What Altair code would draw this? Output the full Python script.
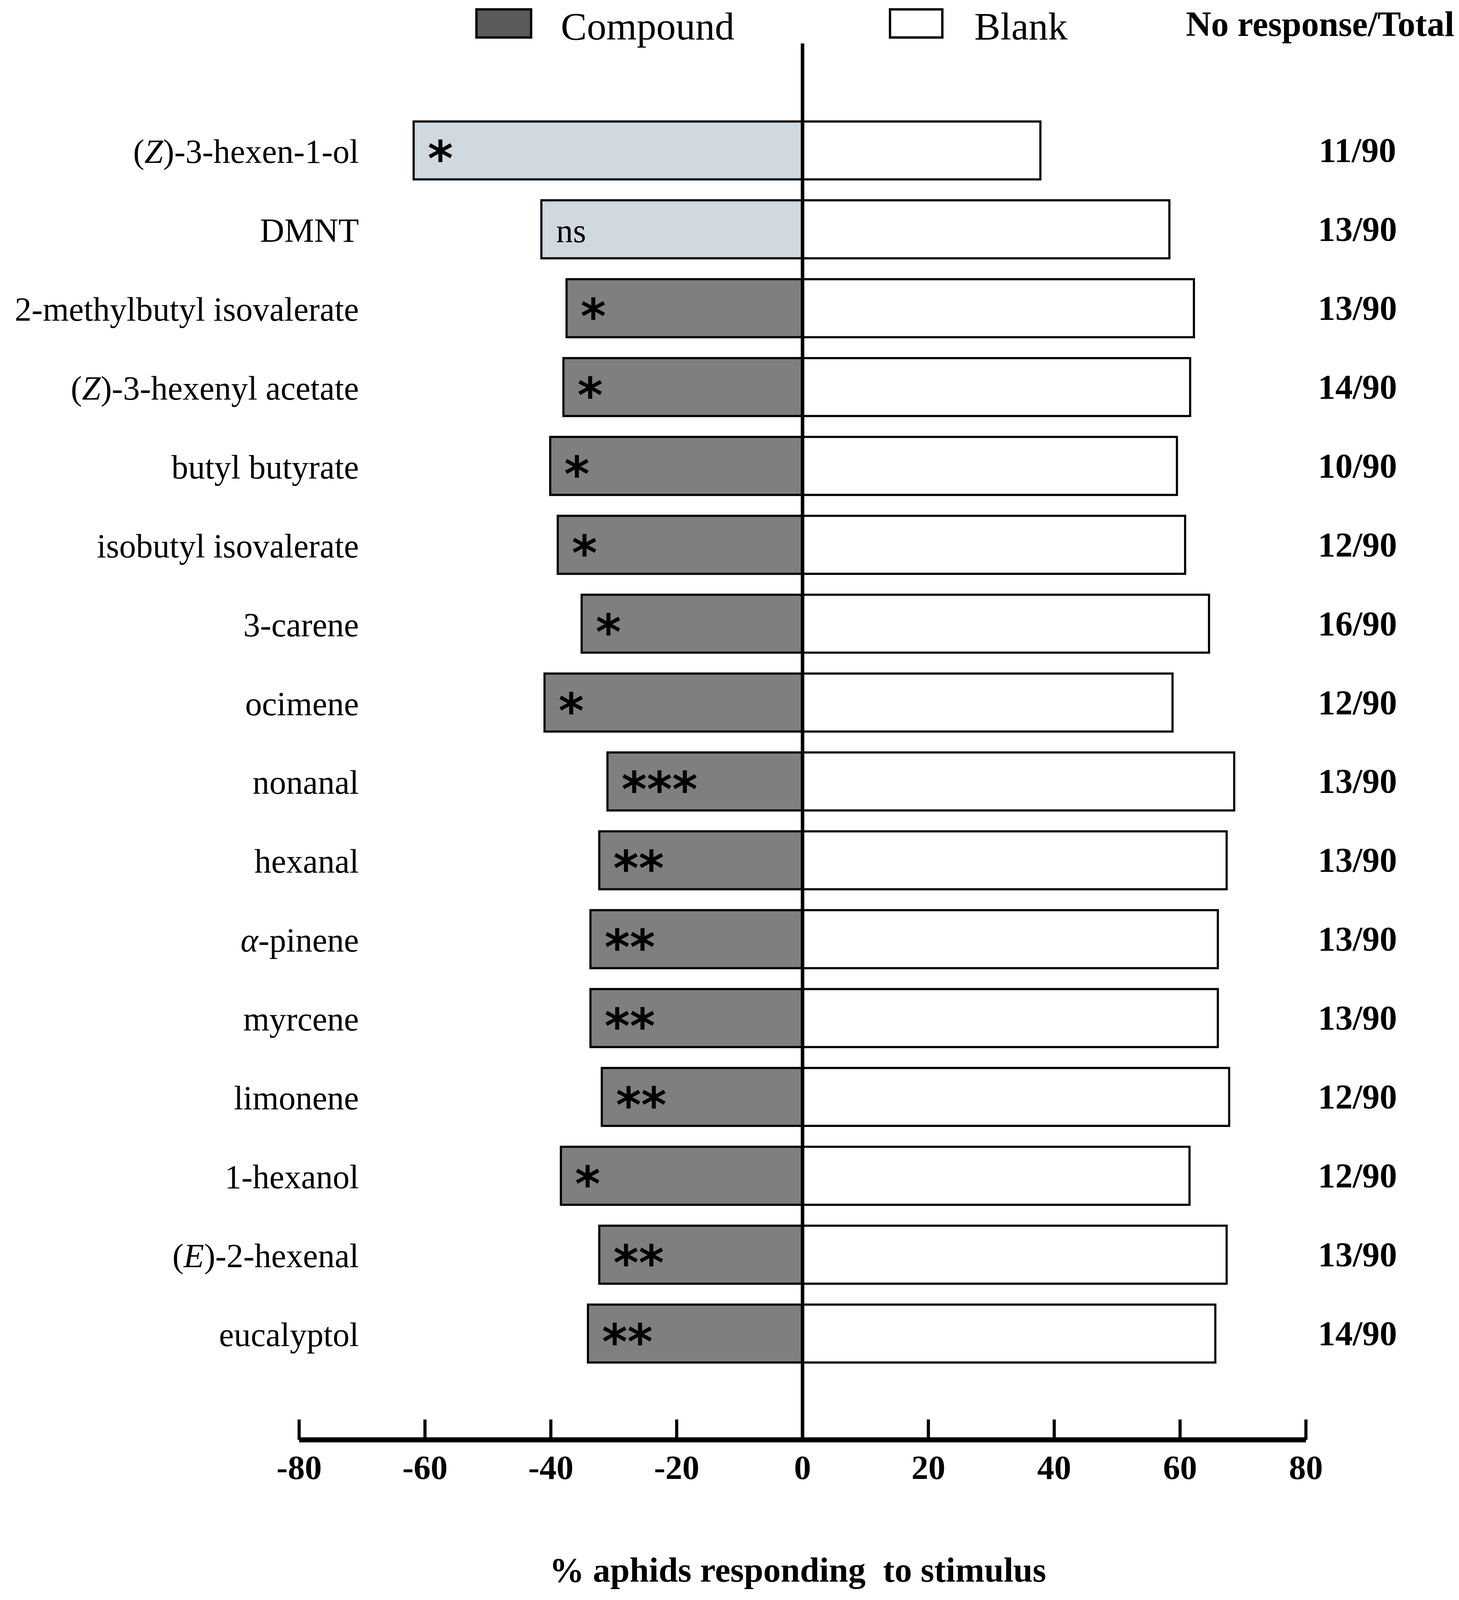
import altair as alt
import pandas as pd

# ---------------- data ----------------
compounds = [
    "(Z)-3-hexen-1-ol", "DMNT", "2-methylbutyl isovalerate", "(Z)-3-hexenyl acetate",
    "butyl butyrate", "isobutyl isovalerate", "3-carene", "ocimene", "nonanal",
    "hexanal", "α-pinene", "myrcene", "limonene", "1-hexanol", "(E)-2-hexenal",
    "eucalyptol",
]
compound_pct = [61.8, 41.5, 37.5, 38.0, 40.1, 38.9, 35.1, 41.0, 31.0, 32.3,
                33.7, 33.7, 31.9, 38.4, 32.3, 34.1]
blank_pct = [37.8, 58.3, 62.2, 61.6, 59.5, 60.8, 64.6, 58.8, 68.6, 67.4,
             66.0, 66.0, 67.8, 61.5, 67.4, 65.6]
significance = ["*", "ns", "*", "*", "*", "*", "*", "*", "***", "**", "**", "**",
                "**", "*", "**", "**"]
no_response = ["11/90", "13/90", "13/90", "14/90", "10/90", "12/90", "16/90", "12/90",
               "13/90", "13/90", "13/90", "13/90", "12/90", "12/90", "13/90", "14/90"]
shade = ["light", "light"] + ["dark"] * 14
tick_values = [-80, -60, -40, -20, 0, 20, 40, 60, 80]
tick_labels = [str(v) for v in tick_values]

# labels that contain an italic part: (text, italic?) segments
italic_segments = {
    "(Z)-3-hexen-1-ol": [("(", False), ("Z", True), (")-3-hexen-1-ol", False)],
    "(Z)-3-hexenyl acetate": [("(", False), ("Z", True), (")-3-hexenyl acetate", False)],
    "α-pinene": [("α", True), ("-pinene", False)],
    "(E)-2-hexenal": [("(", False), ("E", True), (")-2-hexenal", False)],
}

df = pd.DataFrame({
    "compound": compounds,
    "left": [-v for v in compound_pct],
    "right": blank_pct,
    "zero": [0] * len(compounds),
    "sig": significance,
    "ratio": no_response,
    "shade": shade,
})
ticks = pd.DataFrame({"v": tick_values, "lab": tick_labels})
one = pd.DataFrame({"a": [0]})

# ---------------- layout ----------------
K = 0.922                      # vertical fit factor so the whole figure is visible
W, H = 3720, round(4404 * K)


def vy(y):
    return round(y * K, 1)


AXIS_Y = vy(3989)
SERIF = "Liberation Serif"
LABEL_FS = 86
LABEL_RIGHT = 911

# Times-compatible advance widths (per 1000 em) for measuring label segments
REG_W = {"(": 333, ")": 333, "-": 333, "1": 500, "2": 500, "3": 500, "a": 444,
         "c": 444, "e": 444, "h": 500, "l": 278, "n": 500, "o": 500, "p": 500,
         "i": 278, "t": 278, "x": 500, "y": 500, " ": 250}
ITA_W = {"Z": 556, "E": 611, "α": 520}


def seg_width(text, italic):
    table = ITA_W if italic else REG_W
    return sum(table.get(c, 500) for c in text) * LABEL_FS / 1000


X_SCALE = alt.Scale(domain=[-127.04, 103.83], nice=False, zero=False)
Y_ENC = alt.Y("compound:N", sort=compounds, axis=None,
              scale=alt.Scale(paddingInner=0.265, paddingOuter=0,
                              range=[vy(328.5), vy(3774.5)]))

base = alt.Chart(df)

comp_bars = base.mark_bar(stroke="black", strokeWidth=5.5).encode(
    x=alt.X("left:Q", scale=X_SCALE, axis=None),
    x2=alt.X2("zero:Q"),
    y=Y_ENC,
    fill=alt.Fill("shade:N", legend=None,
                  scale=alt.Scale(domain=["light", "dark"], range=["#d0d8e0", "#7f7f7f"])),
)
blank_bars = base.mark_bar(stroke="black", strokeWidth=5.5, fill="white").encode(
    x=alt.X("zero:Q", scale=X_SCALE, axis=None),
    x2=alt.X2("right:Q"),
    y=Y_ENC,
)
zero_line = alt.Chart(one).mark_rule(color="black", strokeWidth=9).encode(
    x=alt.datum(0, scale=X_SCALE),
    y=alt.value(vy(112)),
    y2=alt.value(AXIS_Y),
)
stars = base.transform_filter(alt.datum.sig != "ns").mark_text(
    align="left", baseline="alphabetic", font="DejaVu Sans", fontWeight="bold",
    fontSize=124, dx=36, dy=65, color="black",
).encode(x=alt.X("left:Q", scale=X_SCALE), y=Y_ENC, text="sig:N")
ns_text = base.transform_filter(alt.datum.sig == "ns").mark_text(
    align="left", baseline="alphabetic", font=SERIF, fontSize=86, dx=38, dy=33,
    color="black",
).encode(x=alt.X("left:Q", scale=X_SCALE), y=Y_ENC, text="sig:N")

# plain row labels
special = '["' + '","'.join(italic_segments.keys()) + '"]'
plain_labels = base.transform_filter(
    f"indexof({special}, datum.compound) < 0"
).mark_text(
    align="right", baseline="alphabetic", font=SERIF, fontSize=LABEL_FS, dy=32,
    color="black",
).encode(x=alt.value(LABEL_RIGHT), y=Y_ENC, text="compound:N")

# row labels with italic parts, built right to left
label_layers = [plain_labels]
for name, segs in italic_segments.items():
    right = LABEL_RIGHT
    for text, italic in reversed(segs):
        label_layers.append(
            base.transform_filter(alt.datum.compound == name).mark_text(
                align="right", baseline="alphabetic", font=SERIF, fontSize=LABEL_FS,
                fontStyle="italic" if italic else "normal", dy=32, color="black",
            ).encode(x=alt.value(round(right, 1)), y=Y_ENC, text=alt.value(text))
        )
        right -= seg_width(text, italic)

ratio_labels = base.mark_text(
    align="center", baseline="alphabetic", font=SERIF, fontWeight="bold",
    fontSize=89, dy=29, color="black",
).encode(x=alt.value(3468), y=Y_ENC, text="ratio:N")

axis_line = alt.Chart(one).mark_rule(color="black", strokeWidth=13).encode(
    x=alt.datum(-80, scale=X_SCALE),
    x2=alt.datum(80),
    y=alt.value(AXIS_Y),
)
tick_marks = alt.Chart(ticks).mark_rule(color="black", strokeWidth=8).encode(
    x=alt.X("v:Q", scale=X_SCALE),
    y=alt.value(AXIS_Y - 52),
    y2=alt.value(AXIS_Y),
)
tick_text = alt.Chart(ticks).mark_text(
    align="center", baseline="alphabetic", font=SERIF, fontWeight="bold",
    fontSize=87, color="black",
).encode(x=alt.X("v:Q", scale=X_SCALE), y=alt.value(vy(4098)), text="lab:N")
x_title = alt.Chart(one).mark_text(
    align="center", baseline="alphabetic", font=SERIF, fontWeight="bold",
    fontSize=89, color="black",
).encode(x=alt.value(2035), y=alt.value(vy(4383)),
         text=alt.value("% aphids responding\u00a0 to stimulus"))

# legend
leg_comp_box = alt.Chart(one).mark_rect(fill="#5a5a5a", stroke="black", strokeWidth=6).encode(
    x=alt.value(1212), x2=alt.value(1352), y=alt.value(16), y2=alt.value(88))
leg_blank_box = alt.Chart(one).mark_rect(fill="white", stroke="black", strokeWidth=6).encode(
    x=alt.value(2271), x2=alt.value(2405), y=alt.value(16), y2=alt.value(88))
leg_comp_text = alt.Chart(one).mark_text(
    align="left", baseline="alphabetic", font=SERIF, fontSize=100, color="black",
).encode(x=alt.value(1428), y=alt.value(93), text=alt.value("Compound"))
leg_blank_text = alt.Chart(one).mark_text(
    align="left", baseline="alphabetic", font=SERIF, fontSize=100, color="black",
).encode(x=alt.value(2487), y=alt.value(93), text=alt.value("Blank"))
leg_nr_text = alt.Chart(one).mark_text(
    align="right", baseline="alphabetic", font=SERIF, fontWeight="bold",
    fontSize=90, color="black",
).encode(x=alt.value(3716), y=alt.value(84), text=alt.value("No response/Total"))

chart = alt.layer(
    comp_bars, blank_bars, zero_line, stars, ns_text, *label_layers, ratio_labels,
    axis_line, tick_marks, tick_text, x_title,
    leg_comp_box, leg_blank_box, leg_comp_text, leg_blank_text, leg_nr_text,
).properties(
    width=W, height=H,
    autosize=alt.AutoSizeParams(type="none"),
    padding=0,
    background="white",
).configure_view(stroke=None)

chart.save("out.html", embed_options={"renderer": "svg", "actions": False})
